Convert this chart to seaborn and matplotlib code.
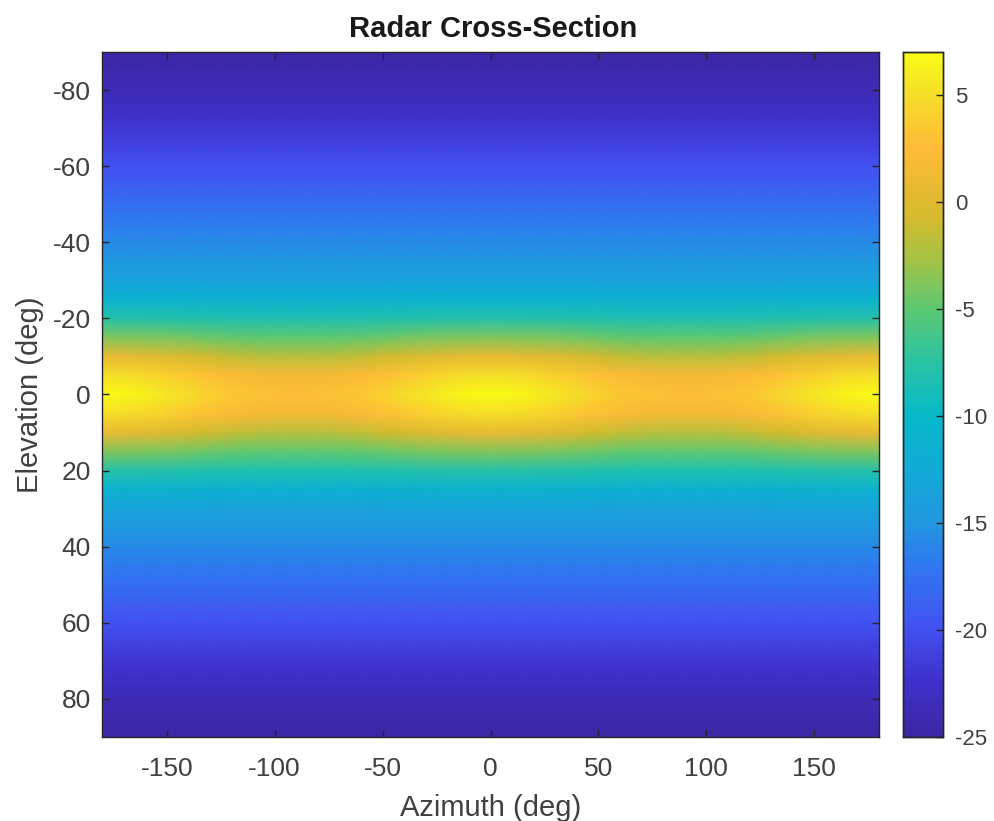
"""
Radar cross-section map redrawn with a seaborn heatmap.
Values are read off the picture on a 15 x 5 degree grid.
"""

import pandas as pd
import seaborn as sns
import matplotlib.pyplot as plt
from matplotlib.colors import LinearSegmentedColormap

AZIMUTH = list(range(-180, 181, 15))
ELEVATION = list(range(-90, 91, 5))

# one list per elevation, -180 to 180 azimuth, in dB
RCS_VALUES = [
    [-25.0] * 25,
    [-24.5] * 25,
    [-23.8] * 25,
    [-23.0] * 25,
    [-22.0] * 25,
    [-21.0] * 25,
    [-20.0] * 25,
    [-19.0] * 25,
    [-17.8] * 25,
    [-16.8] * 25,
    [-15.8] * 25,
    [-14.8] * 25,
    [-13.5, -13.5, -13.5, -13.5, -13.6, -13.6, -13.6, -13.6, -13.6, -13.5, -13.5, -13.5, -13.5, -13.5, -13.5, -13.5, -13.6, -13.6, -13.6, -13.6, -13.6, -13.5, -13.5, -13.5, -13.5],
    [-11.3, -11.3, -11.3, -11.4, -11.4, -11.4, -11.4, -11.4, -11.4, -11.4, -11.3, -11.3, -11.3, -11.3, -11.3, -11.4, -11.4, -11.4, -11.4, -11.4, -11.4, -11.4, -11.3, -11.3, -11.3],
    [-8.0, -8.0, -8.1, -8.2, -8.3, -8.3, -8.3, -8.3, -8.3, -8.2, -8.1, -8.0, -8.0, -8.0, -8.1, -8.2, -8.3, -8.3, -8.3, -8.3, -8.3, -8.2, -8.1, -8.0, -8.0],
    [-3.8, -3.9, -4.1, -4.5, -4.8, -5.0, -5.0, -5.0, -4.8, -4.5, -4.1, -3.9, -3.8, -3.9, -4.1, -4.5, -4.8, -5.0, -5.0, -5.0, -4.8, -4.5, -4.1, -3.9, -3.8],
    [0.8, 0.6, 0.0, -0.7, -1.4, -1.9, -2.0, -1.9, -1.4, -0.7, 0.0, 0.6, 0.8, 0.6, 0.0, -0.7, -1.4, -1.9, -2.0, -1.9, -1.4, -0.7, 0.0, 0.6, 0.8],
    [5.0, 4.8, 4.0, 3.2, 2.3, 1.8, 1.7, 1.8, 2.3, 3.2, 4.0, 4.8, 5.0, 4.8, 4.0, 3.2, 2.3, 1.8, 1.7, 1.8, 2.3, 3.2, 4.0, 4.8, 5.0],
    [7.0, 6.6, 5.6, 4.5, 3.4, 2.9, 2.7, 2.9, 3.4, 4.5, 5.6, 6.6, 7.0, 6.6, 5.6, 4.5, 3.4, 2.9, 2.7, 2.9, 3.4, 4.5, 5.6, 6.6, 7.0],
    [5.0, 4.8, 4.0, 3.2, 2.3, 1.8, 1.7, 1.8, 2.3, 3.2, 4.0, 4.8, 5.0, 4.8, 4.0, 3.2, 2.3, 1.8, 1.7, 1.8, 2.3, 3.2, 4.0, 4.8, 5.0],
    [0.8, 0.6, 0.0, -0.7, -1.4, -1.9, -2.0, -1.9, -1.4, -0.7, 0.0, 0.6, 0.8, 0.6, 0.0, -0.7, -1.4, -1.9, -2.0, -1.9, -1.4, -0.7, 0.0, 0.6, 0.8],
    [-3.8, -3.9, -4.1, -4.5, -4.8, -5.0, -5.0, -5.0, -4.8, -4.5, -4.1, -3.9, -3.8, -3.9, -4.1, -4.5, -4.8, -5.0, -5.0, -5.0, -4.8, -4.5, -4.1, -3.9, -3.8],
    [-8.0, -8.0, -8.1, -8.2, -8.3, -8.3, -8.3, -8.3, -8.3, -8.2, -8.1, -8.0, -8.0, -8.0, -8.1, -8.2, -8.3, -8.3, -8.3, -8.3, -8.3, -8.2, -8.1, -8.0, -8.0],
    [-11.3, -11.3, -11.3, -11.4, -11.4, -11.4, -11.4, -11.4, -11.4, -11.4, -11.3, -11.3, -11.3, -11.3, -11.3, -11.4, -11.4, -11.4, -11.4, -11.4, -11.4, -11.4, -11.3, -11.3, -11.3],
    [-13.5, -13.5, -13.5, -13.5, -13.6, -13.6, -13.6, -13.6, -13.6, -13.5, -13.5, -13.5, -13.5, -13.5, -13.5, -13.5, -13.6, -13.6, -13.6, -13.6, -13.6, -13.5, -13.5, -13.5, -13.5],
    [-14.8] * 25,
    [-15.8] * 25,
    [-16.8] * 25,
    [-17.8] * 25,
    [-19.0] * 25,
    [-20.0] * 25,
    [-21.0] * 25,
    [-22.0] * 25,
    [-23.0] * 25,
    [-23.8] * 25,
    [-24.5] * 25,
    [-25.0] * 25,
]

AZIMUTH_TICKS = [-150, -100, -50, 0, 50, 100, 150]
ELEVATION_TICKS = [-80, -60, -40, -20, 0, 20, 40, 60, 80]
COLORBAR_TICKS = [-25, -20, -15, -10, -5, 0, 5]

# parula-like colours, checked against the colorbar
PARULA = [
    (0.00, "#3b27a4"), (0.08, "#3f30cc"), (0.16, "#4252f2"),
    (0.25, "#2f78f0"), (0.31, "#2296e0"), (0.39, "#12aad6"),
    (0.47, "#05b9c8"), (0.55, "#2cc3a2"), (0.625, "#5cc872"),
    (0.70, "#a8c244"), (0.76, "#d5ba2e"), (0.86, "#ffba38"),
    (0.94, "#f5de28"), (1.00, "#f9fb15")]

TEXT_COLOR = "#404040"
EDGE_COLOR = "#262626"
FIG_W, FIG_H = 994, 821


def style_box(axis):
    """Ticks above the map and a thin dark frame on all four sides."""
    axis.set_axisbelow(False)
    for spine in axis.spines.values():
        spine.set_visible(True)
        spine.set_color(EDGE_COLOR)
        spine.set_linewidth(1.0)


def main():
    sns.set_theme(style="white")
    plt.rcParams["font.family"] = ["Liberation Sans", "DejaVu Sans"]

    df = pd.DataFrame(RCS_VALUES, index=ELEVATION, columns=AZIMUTH)
    cmap = LinearSegmentedColormap.from_list("parula", PARULA, N=256)

    fig = plt.figure(figsize=(FIG_W / 100, FIG_H / 100), dpi=100)
    ax = fig.add_axes([102 / FIG_W, 1 - 737 / FIG_H, 777 / FIG_W, 685 / FIG_H])
    cax = fig.add_axes([903 / FIG_W, 1 - 737 / FIG_H, 40 / FIG_W, 685 / FIG_H])

    # gouraud keeps the map smooth, its grid points sit on whole index values
    sns.heatmap(df, ax=ax, cbar_ax=cax, cmap=cmap, vmin=-25, vmax=7,
                xticklabels=False, yticklabels=False, shading="gouraud")

    ax.set_xlim(0, len(AZIMUTH) - 1)
    ax.set_ylim(len(ELEVATION) - 1, 0)
    ax.set_xticks([(t + 180) / 15 for t in AZIMUTH_TICKS])
    ax.set_xticklabels(AZIMUTH_TICKS)
    ax.set_yticks([ELEVATION.index(t) for t in ELEVATION_TICKS])
    ax.set_yticklabels(ELEVATION_TICKS, rotation=0)
    ax.tick_params(axis="both", direction="in", length=5, width=1,
                   color=EDGE_COLOR, labelcolor=TEXT_COLOR, labelsize=19,
                   top=True, right=True, bottom=True, left=True)
    ax.tick_params(axis="x", pad=14.5)
    ax.tick_params(axis="y", pad=8)
    style_box(ax)

    ax.set_title("Radar Cross-Section", fontsize=21, fontweight="bold",
                 color="#1a1a1a", x=0.504, pad=11)
    ax.set_xlabel("Azimuth (deg)", fontsize=21, color=TEXT_COLOR, labelpad=9)
    ax.set_ylabel("Elevation (deg)", fontsize=21, color=TEXT_COLOR, labelpad=6)

    cax.set_yticks(COLORBAR_TICKS)
    cax.set_yticklabels(COLORBAR_TICKS)
    cax.tick_params(axis="y", direction="in", length=5, width=1,
                    color=EDGE_COLOR, labelcolor=TEXT_COLOR, labelsize=16,
                    right=True, left=False, pad=9)
    style_box(cax)

    fig.savefig("out.png", dpi=100)


if __name__ == '__main__':
    main()
